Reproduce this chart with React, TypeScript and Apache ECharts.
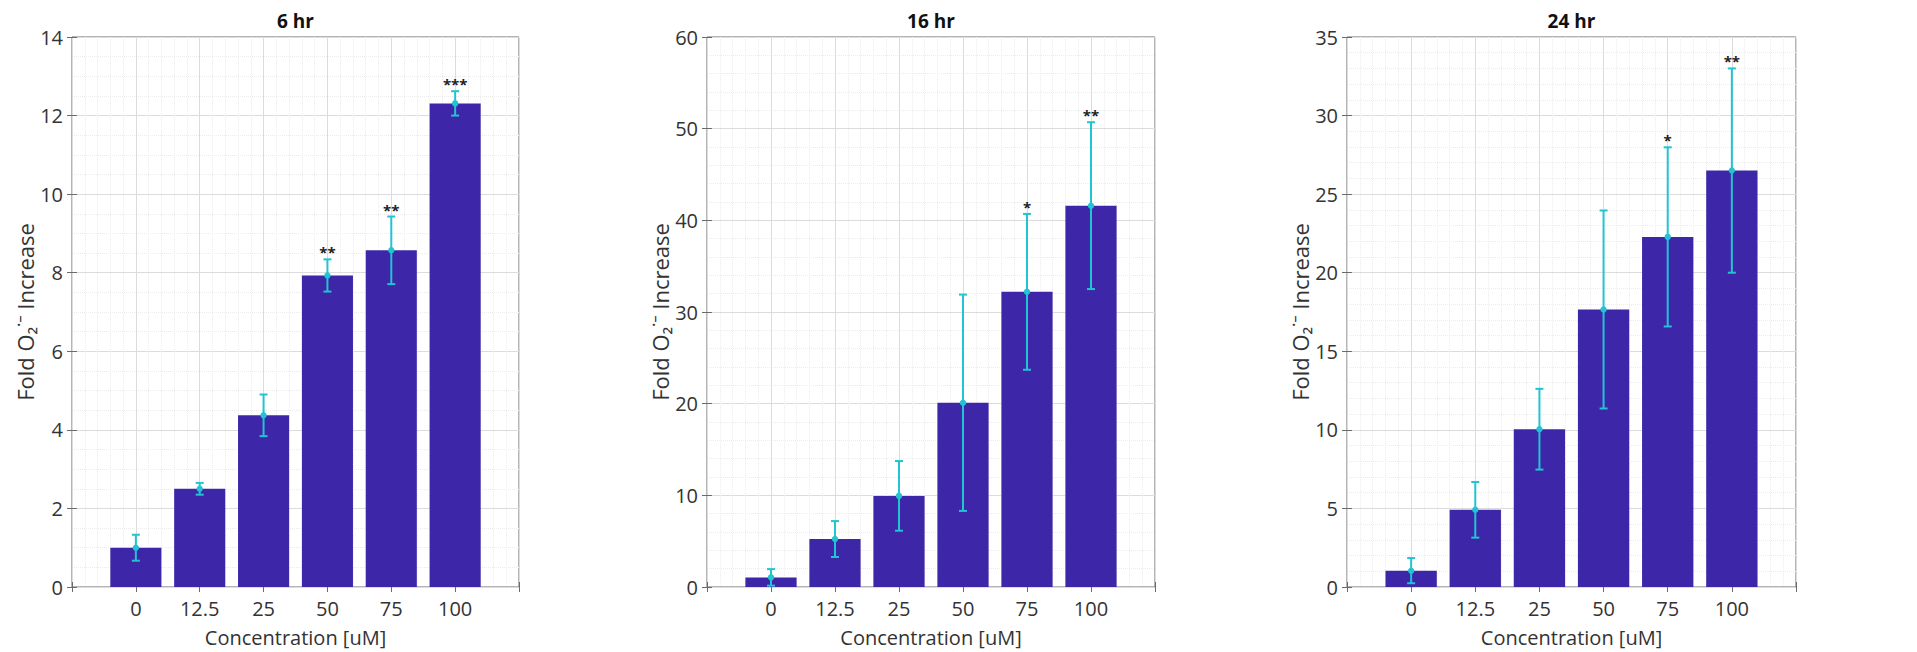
import React, { useEffect, useRef } from 'react';
import * as echarts from 'echarts';

const concentrations = ['0', '12.5', '25', '50', '75', '100'];
const panelTitles = ['6 hr', '16 hr', '24 hr'];

const means6 = [1.0, 2.5, 4.37, 7.93, 8.57, 12.31];
const errs6 = [0.33, 0.15, 0.53, 0.41, 0.86, 0.31];
const stars6 = ['', '', '', '**', '**', '***'];

const means16 = [1.05, 5.23, 9.94, 20.1, 32.2, 41.6];
const errs16 = [0.9, 1.96, 3.8, 11.8, 8.5, 9.1];
const stars16 = ['', '', '', '', '*', '**'];

const means24 = [1.04, 4.91, 10.04, 17.66, 22.28, 26.5];
const errs24 = [0.8, 1.77, 2.57, 6.3, 5.7, 6.5];
const stars24 = ['', '', '', '', '*', '**'];

const yMaxes = [14, 60, 35];
const ySteps = [2, 10, 5];
const yMinorSplits = [4, 5, 5];

const xAxisName = 'Concentration [uM]';
const yAxisName = 'Fold O\u2082\u02D9\u207B Increase';

const FONT = '"Open Sans", "Noto Sans", sans-serif';
const BAR_COLOR = '#3E26A8';
const ERR_COLOR = '#22C3D3';
const AXIS_COLOR = '#6b6b6b';
const TEXT_COLOR = '#333333';

export default function App() {
  const ref = useRef<HTMLDivElement>(null);

  useEffect(() => {
    if (!ref.current) return;
    const chart = echarts.init(ref.current, undefined, { renderer: 'svg' });

    const panels = [
      { means: means6, errs: errs6, stars: stars6 },
      { means: means16, errs: errs16, stars: stars16 },
      { means: means24, errs: errs24, stars: stars24 },
    ];
    const lefts = [72, 707, 1347];
    const widths = [447, 448, 449];
    const top = 37;
    const height = 551;

    const grid: any[] = [];
    const xAxis: any[] = [];
    const yAxis: any[] = [];
    const series: any[] = [];
    const graphic: any[] = [];

    panels.forEach((p, k) => {
      grid.push({
        left: lefts[k],
        top,
        width: widths[k],
        height,
        show: true,
        borderColor: AXIS_COLOR,
        borderWidth: 1,
        backgroundColor: '#ffffff',
      });
      xAxis.push({
        type: 'value',
        gridIndex: k,
        position: 'bottom',
        min: 0,
        max: 7,
        interval: 1,
        name: xAxisName,
        nameLocation: 'middle',
        nameGap: 40,
        nameTextStyle: { fontFamily: FONT, fontSize: 20, color: TEXT_COLOR },
        axisLine: { show: false },
        axisTick: { show: true, inside: true, length: 5, lineStyle: { color: AXIS_COLOR } },
        axisLabel: {
          fontFamily: FONT,
          fontSize: 20,
          color: TEXT_COLOR,
          margin: 11,
          formatter: (v: number) => (v >= 1 && v <= 6 ? concentrations[Math.round(v) - 1] : ''),
        },
        splitLine: { show: true, lineStyle: { color: '#dcdcdc', width: 1 } },
        minorTick: { show: false, splitNumber: 5 },
        minorSplitLine: { show: true, lineStyle: { color: '#ececec', width: 1, type: 'dotted' } },
      });
      xAxis.push({
        type: 'value',
        gridIndex: k,
        position: 'top',
        min: 0,
        max: 7,
        interval: 1,
        axisLine: { show: false },
        axisTick: { show: true, inside: true, length: 5, lineStyle: { color: AXIS_COLOR } },
        axisLabel: { show: false },
        splitLine: { show: false },
      });
      yAxis.push({
        type: 'value',
        gridIndex: k,
        position: 'left',
        min: 0,
        max: yMaxes[k],
        interval: ySteps[k],
        name: yAxisName,
        nameLocation: 'middle',
        nameGap: 36,
        nameRotate: 90,
        nameTextStyle: { fontFamily: FONT, fontSize: 22, color: TEXT_COLOR },
        axisLine: { show: false },
        axisTick: { show: true, inside: true, length: 5, lineStyle: { color: AXIS_COLOR } },
        axisLabel: { fontFamily: FONT, fontSize: 20, color: TEXT_COLOR, margin: 9 },
        splitLine: { show: true, lineStyle: { color: '#dcdcdc', width: 1 } },
        minorTick: { show: false, splitNumber: yMinorSplits[k] },
        minorSplitLine: { show: true, lineStyle: { color: '#ececec', width: 1, type: 'dotted' } },
      });
      yAxis.push({
        type: 'value',
        gridIndex: k,
        position: 'right',
        min: 0,
        max: yMaxes[k],
        interval: ySteps[k],
        axisLine: { show: false },
        axisTick: { show: true, inside: true, length: 5, lineStyle: { color: AXIS_COLOR } },
        axisLabel: { show: false },
        splitLine: { show: false },
      });

      series.push({
        type: 'bar',
        xAxisIndex: 2 * k,
        yAxisIndex: 2 * k,
        barWidth: '80%',
        itemStyle: { color: BAR_COLOR },
        data: p.means.map((m, i) => [i + 1, m]),
        z: 2,
      });

      const stars = p.stars;
      series.push({
        type: 'custom',
        xAxisIndex: 2 * k,
        yAxisIndex: 2 * k,
        encode: { x: 0, y: 1 },
        z: 3,
        data: p.means.map((m, i) => [i + 1, m, p.errs[i]]),
        renderItem: (params: any, api: any) => {
          const x = api.value(0);
          const m = api.value(1);
          const e = api.value(2);
          const tp = api.coord([x, m + e]);
          const bt = api.coord([x, Math.max(m - e, 0)]);
          const c = api.coord([x, m]);
          const cap = 4;
          const children: any[] = [
            {
              type: 'line',
              shape: { x1: tp[0], y1: tp[1], x2: bt[0], y2: bt[1] },
              style: { stroke: ERR_COLOR, lineWidth: 2 },
            },
            {
              type: 'line',
              shape: { x1: tp[0] - cap, y1: tp[1], x2: tp[0] + cap, y2: tp[1] },
              style: { stroke: ERR_COLOR, lineWidth: 2 },
            },
            {
              type: 'line',
              shape: { x1: bt[0] - cap, y1: bt[1], x2: bt[0] + cap, y2: bt[1] },
              style: { stroke: ERR_COLOR, lineWidth: 2 },
            },
            {
              type: 'circle',
              shape: { cx: c[0], cy: c[1], r: 3.2 },
              style: { fill: ERR_COLOR },
            },
          ];
          const s = stars[params.dataIndex];
          if (s) {
            children.push({
              type: 'text',
              x: tp[0],
              y: tp[1] - 7,
              style: {
                text: s,
                fill: '#222222',
                font: `bold 15px ${FONT}`,
                textAlign: 'center',
                textVerticalAlign: 'middle',
              },
            });
          }
          return { type: 'group', children };
        },
      });

      graphic.push({
        type: 'text',
        x: lefts[k] + widths[k] / 2,
        y: 21,
        style: {
          text: panelTitles[k],
          fill: '#111111',
          font: `bold 19px ${FONT}`,
          textAlign: 'center',
          textVerticalAlign: 'middle',
        },
      });
    });

    chart.setOption({
      animation: false,
      backgroundColor: '#ffffff',
      grid,
      xAxis,
      yAxis,
      series,
      graphic,
    });

    return () => {
      chart.dispose();
    };
  }, []);

  return (
    <div
      ref={ref}
      style={{ position: 'absolute', left: 0, top: 0, width: 1917, height: 652 }}
    />
  );
}
